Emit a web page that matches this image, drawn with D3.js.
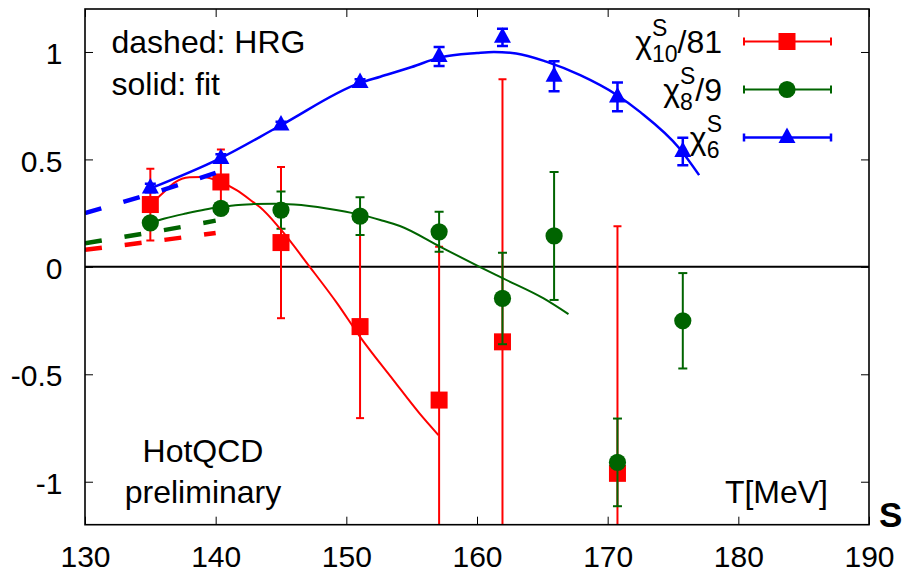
<!DOCTYPE html>
<html>
<head>
<meta charset="utf-8">
<script src="https://cdn.jsdelivr.net/npm/d3@7"></script>
<style>
  html, body { margin: 0; padding: 0; background: #fff; }
  svg text { font-family: "Liberation Sans", Arial, Helvetica, sans-serif; fill: #000; }
</style>
</head>
<body>
<svg id="chart" width="903" height="574"></svg>
<script>
// ---- data: strangeness susceptibilities vs temperature ----
const xTicks = [130, 140, 150, 160, 170, 180, 190];
const yTicks = [-1, -0.5, 0, 0.5, 1];
const yTickLabels = ["-1", "-0.5", "0", "0.5", "1"];

// chi_10^S / 81 (lattice points)
const chi10T   = [135.0, 140.4, 145.0, 151.05, 157.1, 161.95, 170.75];
const chi10    = [0.290, 0.395, 0.113, -0.278, -0.620, -0.349, -0.961];
const chi10Err = [0.167, 0.151, 0.352, 0.426, 0.713, 1.222, 1.150];

// chi_8^S / 9
const chi8T   = [135.0, 140.4, 145.0, 151.05, 157.1, 161.95, 165.9, 170.75, 175.75];
const chi8    = [0.205, 0.272, 0.264, 0.236, 0.163, -0.147, 0.144, -0.910, -0.251];
const chi8Err = [0.020, 0.020, 0.087, 0.088, 0.093, 0.213, 0.298, 0.204, 0.222];

// chi_6^S
const chi6T   = [135.0, 140.4, 145.0, 151.05, 157.1, 161.95, 165.9, 170.75, 175.75];
const chi6    = [0.367, 0.504, 0.660, 0.858, 0.979, 1.068, 0.887, 0.791, 0.537];
const chi6Err = [0.020, 0.020, 0.015, 0.015, 0.044, 0.040, 0.070, 0.067, 0.064];

// fit curves (solid)
const fit10T = [135.0, 135.9, 136.8, 138.0, 139.0, 140.3, 141.6, 142.9, 143.4, 144.9, 147.2, 149.3, 151.05, 153.6, 155.6, 157.05];
const fit10  = [0.290, 0.340, 0.390, 0.417, 0.418, 0.397, 0.357, 0.300, 0.277, 0.180, 0.000, -0.170, -0.326, -0.527, -0.682, -0.783];
const fit8T  = [135.0, 136.1, 137.7, 139.2, 140.5, 141.5, 142.9, 144.5, 146.0, 148.5, 151.05, 152.6, 154.1, 157.2, 160.2, 162.0, 165.1, 167.0];
const fit8   = [0.205, 0.225, 0.248, 0.267, 0.279, 0.287, 0.292, 0.294, 0.290, 0.272, 0.243, 0.218, 0.190, 0.093, 0.000, -0.054, -0.147, -0.220];
const fit6T  = [135.0, 140.3, 145.0, 151.0, 152.6, 155.0, 157.2, 160.0, 161.3, 163.0, 165.3, 167.9, 170.7, 172.5, 175.5, 177.0];
const fit6   = [0.365, 0.504, 0.659, 0.855, 0.885, 0.930, 0.975, 0.995, 1.000, 0.993, 0.955, 0.892, 0.800, 0.720, 0.551, 0.427];

// hadron resonance gas (dashed)
const hrgT  = [130, 135, 140];
const hrg10 = [0.080, 0.117, 0.158];
const hrg8  = [0.110, 0.160, 0.215];
const hrg6  = [0.250, 0.340, 0.437];

const RED = "#ff0000", GREEN = "#006400", BLUE = "#0000ff";

// ---- layout ----
const svg = d3.select("#chart");
const pL = 85, pR = 869, pT = 9, pB = 524.7;
const x = d3.scaleLinear().domain([130, 190]).range([pL, pR]);
const y = d3.scaleLinear().domain([-1.2, 1.2]).range([pB, pT]);

svg.append("defs").append("clipPath").attr("id", "plotClip")
  .append("rect").attr("x", pL).attr("y", pT)
  .attr("width", pR - pL).attr("height", pB - pT);

// axes with inward ticks on all four sides
const fmtY = d => yTickLabels[yTicks.indexOf(d)];
const axB = svg.append("g").attr("transform", `translate(0,${pB})`)
  .call(d3.axisBottom(x).tickValues(xTicks).tickSize(-8).tickPadding(21));
const axL = svg.append("g").attr("transform", `translate(${pL},0)`)
  .call(d3.axisLeft(y).tickValues(yTicks).tickFormat(fmtY).tickSize(-8).tickPadding(22.5));
const axT = svg.append("g").attr("transform", `translate(0,${pT})`)
  .call(d3.axisTop(x).tickValues(xTicks).tickSize(-8).tickFormat(""));
const axR = svg.append("g").attr("transform", `translate(${pR},0)`)
  .call(d3.axisRight(y).tickValues(yTicks).tickSize(-8).tickFormat(""));
[axB, axL, axT, axR].forEach(a => {
  a.select(".domain").remove();
  a.selectAll(".tick line").attr("stroke", "#000").attr("stroke-width", 1);
  a.selectAll(".tick text").attr("font-size", 30).attr("font-family", "Liberation Sans, Arial, sans-serif").attr("fill", "#000");
});
axL.selectAll(".tick text").attr("dy", "0.39em");

const plot = svg.append("g").attr("clip-path", "url(#plotClip)");

// zero line
plot.append("line").attr("x1", pL).attr("x2", pR)
  .attr("y1", y(0)).attr("y2", y(0)).attr("stroke", "#000").attr("stroke-width", 2);

// markers
function marker(g, kind, cx, cy, color) {
  if (kind === "square") {
    g.append("rect").attr("x", cx - 8.5).attr("y", cy - 8.5).attr("width", 17).attr("height", 17).attr("fill", color);
  } else if (kind === "circle") {
    g.append("circle").attr("cx", cx).attr("cy", cy).attr("r", 8.6).attr("fill", color);
  } else {
    g.append("path").attr("d", `M${cx},${cy - 10}L${cx + 8.5},${cy + 5.5}L${cx - 8.5},${cy + 5.5}Z`).attr("fill", color);
  }
}

function errSeries(ts, vs, es, color, kind, lw, cap) {
  const g = plot.append("g");
  ts.forEach((t, i) => {
    const cx = x(t), y1 = y(vs[i] + es[i]), y0 = y(vs[i] - es[i]);
    g.append("line").attr("x1", cx).attr("x2", cx).attr("y1", y1).attr("y2", y0)
      .attr("stroke", color).attr("stroke-width", lw);
    [y1, y0].forEach(yy => g.append("line").attr("x1", cx - cap / 2).attr("x2", cx + cap / 2)
      .attr("y1", yy).attr("y2", yy).attr("stroke", color).attr("stroke-width", lw));
    marker(g, kind, cx, y(vs[i]), color);
  });
}

errSeries(chi10T, chi10, chi10Err, RED, "square", 2, 8);
errSeries(chi8T, chi8, chi8Err, GREEN, "circle", 2, 9);
errSeries(chi6T, chi6, chi6Err, BLUE, "triangle", 2.5, 11);

// fits and HRG curves
const line = d3.line().x(d => x(d[0])).y(d => y(d[1])).curve(d3.curveMonotoneX);
function curve(ts, vs, color, lw, dash) {
  const p = plot.append("path").datum(ts.map((t, i) => [t, vs[i]]))
    .attr("d", line).attr("fill", "none").attr("stroke", color).attr("stroke-width", lw);
  if (dash) p.attr("stroke-dasharray", dash);
}
curve(fit10T, fit10, RED, 2);
curve(fit8T, fit8, GREEN, 2);
curve(fit6T, fit6, BLUE, 2.5);
curve(hrgT, hrg10, RED, 4.5, "17,23");
curve(hrgT, hrg8, GREEN, 4.5, "17,23");
curve(hrgT, hrg6, BLUE, 4.5, "17,23");

// frame
svg.append("rect").attr("x", pL).attr("y", pT).attr("width", pR - pL).attr("height", pB - pT)
  .attr("fill", "none").attr("stroke", "#000").attr("stroke-width", 1.6);

// annotations
svg.append("text").attr("x", 111.5).attr("y", 52.7).attr("font-size", 32).text("dashed: HRG");
svg.append("text").attr("x", 111.5).attr("y", 95).attr("font-size", 32).text("solid: fit");
svg.append("text").attr("x", 203).attr("y", 461.7).attr("font-size", 32).attr("text-anchor", "middle").text("HotQCD");
svg.append("text").attr("x", 203).attr("y", 503).attr("font-size", 32).attr("text-anchor", "middle").text("preliminary");
svg.append("text").attr("x", 828).attr("y", 502.7).attr("font-size", 32).attr("text-anchor", "end").text("T[MeV]");
svg.append("text").attr("x", 879).attr("y", 526.7).attr("font-size", 35).attr("font-weight", "bold").text("S");

// legend: χ with stacked superscript S and numeric subscript, right-aligned
const legend = [
  { sub: "10", tail: "/81", color: RED, kind: "square", lw: 2, cap: 8 },
  { sub: "8", tail: "/9", color: GREEN, kind: "circle", lw: 2, cap: 9 },
  { sub: "6", tail: "", color: BLUE, kind: "triangle", lw: 2.5, cap: 11 }
];
const legRows = [41.5, 89.5, 137.5];
legend.forEach((e, i) => {
  const ry = legRows[i];
  const t = svg.append("text").attr("transform", `translate(0,${ry + 11})`);
  const chi = t.append("tspan").attr("x", 0).attr("y", 0).attr("font-size", 32).text("χ");
  const wChi = chi.node().getComputedTextLength();
  const sup = t.append("tspan").attr("x", wChi).attr("y", -16.5).attr("font-size", 23).text("S");
  const sb = t.append("tspan").attr("x", wChi).attr("y", 9.8).attr("font-size", 23).text(e.sub);
  const w2 = Math.max(sup.node().getComputedTextLength(), sb.node().getComputedTextLength());
  let total = wChi + w2;
  if (e.tail) {
    const tl = t.append("tspan").attr("x", wChi + w2).attr("y", 0).attr("font-size", 32).text(e.tail);
    total += tl.node().getComputedTextLength();
  }
  t.attr("transform", `translate(${722 - total},${ry + 11})`);

  const lg = svg.append("g");
  const x1 = 744, x2 = 831;
  lg.append("line").attr("x1", x1).attr("x2", x2).attr("y1", ry).attr("y2", ry).attr("stroke", e.color).attr("stroke-width", e.lw);
  [x1, x2].forEach(xx => lg.append("line").attr("x1", xx).attr("x2", xx).attr("y1", ry - 4).attr("y2", ry + 4)
    .attr("stroke", e.color).attr("stroke-width", e.lw));
  marker(lg, e.kind, 787, ry, e.color);
});
</script>
</body>
</html>
